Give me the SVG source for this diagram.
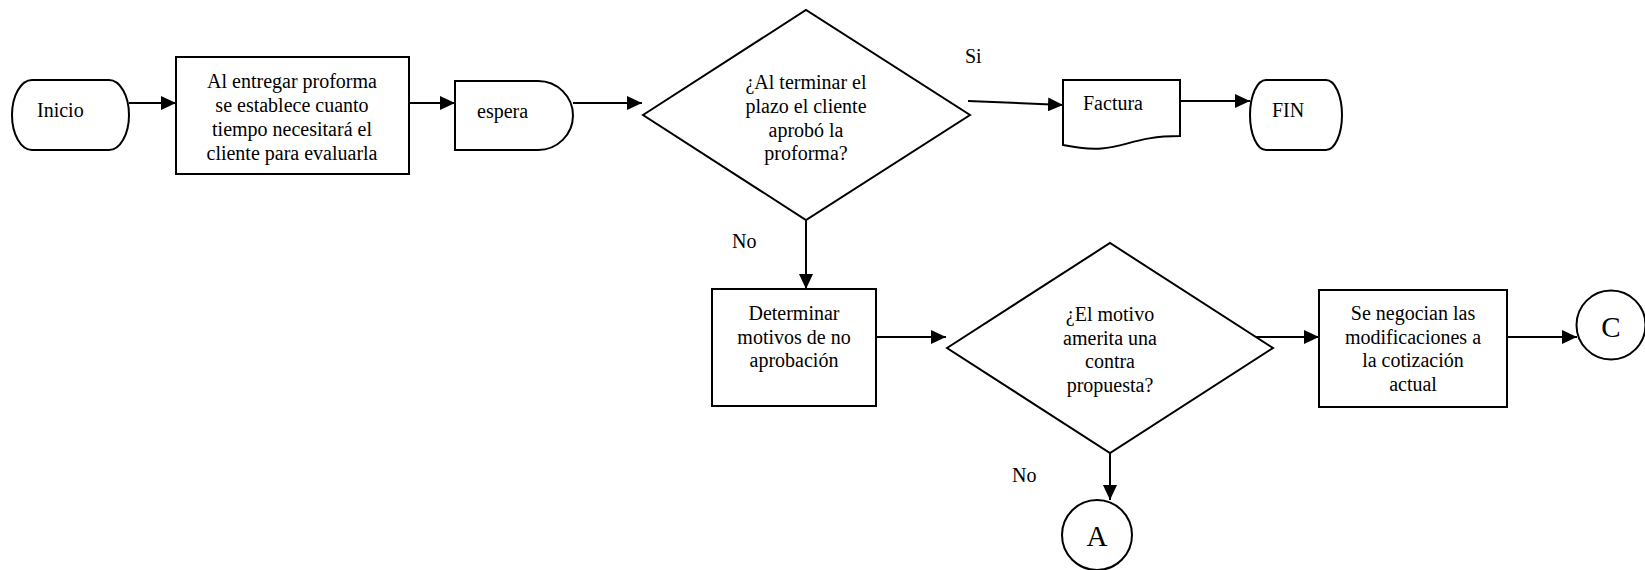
<svg xmlns="http://www.w3.org/2000/svg" width="1645" height="570" viewBox="0 0 1645 570">
  <style>
    .shape { fill: #ffffff; stroke: #000000; stroke-width: 2; }
    .conn { fill: none; stroke: #000000; stroke-width: 2; }
    .txt { font-family: "Liberation Serif", "Times New Roman", serif; font-size: 20px; fill: #000000; }
    .mid { text-anchor: middle; }
    .big { font-size: 29px; }
  </style>
  <defs>
    <marker id="arrow" markerUnits="userSpaceOnUse" markerWidth="16" markerHeight="14" refX="15" refY="7" orient="auto">
      <path d="M0,0 L15,7 L0,14 z" fill="#000000"/>
    </marker>
  </defs>

  <rect width="1645" height="570" fill="#ffffff"/>

  <!-- connectors -->
  <g id="connectors">
    <line class="conn" x1="129" y1="103" x2="176" y2="103" marker-end="url(#arrow)"/>
    <line class="conn" x1="409" y1="103" x2="455" y2="103" marker-end="url(#arrow)"/>
    <line class="conn" x1="573" y1="103" x2="642" y2="103" marker-end="url(#arrow)"/>
    <line class="conn" x1="968" y1="101" x2="1063" y2="105" marker-end="url(#arrow)"/>
    <line class="conn" x1="1180" y1="101" x2="1250" y2="101" marker-end="url(#arrow)"/>
    <line class="conn" x1="806" y1="220" x2="806" y2="289" marker-end="url(#arrow)"/>
    <line class="conn" x1="876" y1="337" x2="946" y2="337" marker-end="url(#arrow)"/>
    <line class="conn" x1="1250" y1="337" x2="1319" y2="337" marker-end="url(#arrow)"/>
    <line class="conn" x1="1507" y1="337" x2="1577" y2="337" marker-end="url(#arrow)"/>
    <line class="conn" x1="1110" y1="453" x2="1110" y2="500" marker-end="url(#arrow)"/>
    <text class="txt" x="965" y="63">Si</text>
    <text class="txt" x="732" y="248">No</text>
    <text class="txt" x="1012" y="482">No</text>
  </g>

  <!-- start terminator -->
  <g id="inicio">
    <rect class="shape" x="12" y="80" width="117" height="70" rx="20" ry="35"/>
    <text class="txt" x="37" y="117">Inicio</text>
  </g>

  <!-- set evaluation period -->
  <g id="proforma">
    <rect class="shape" x="176" y="57" width="233" height="117"/>
    <text class="txt mid" x="292" y="88">Al entregar proforma</text>
    <text class="txt mid" x="292" y="112">se establece cuanto</text>
    <text class="txt mid" x="292" y="136">tiempo necesitará el</text>
    <text class="txt mid" x="292" y="160">cliente para evaluarla</text>
  </g>

  <!-- delay -->
  <g id="espera">
    <path class="shape" d="M455,81 H538 A35,34.5 0 0 1 538,150 H455 Z"/>
    <text class="txt" x="477" y="118">espera</text>
  </g>

  <!-- approval decision -->
  <g id="decision-aprobacion">
    <polygon class="shape" points="643,115 806,10 970,115 806,220"/>
    <text class="txt mid" x="806" y="89">¿Al terminar el</text>
    <text class="txt mid" x="806" y="113">plazo el cliente</text>
    <text class="txt mid" x="806" y="137">aprobó la</text>
    <text class="txt mid" x="806" y="160">proforma?</text>
  </g>

  <!-- invoice document -->
  <g id="factura">
    <path class="shape" d="M1063,80 H1180 V136 C1121.5,136 1121.5,157 1063,145 Z"/>
    <text class="txt" x="1083" y="110">Factura</text>
  </g>

  <!-- end terminator -->
  <g id="fin">
    <rect class="shape" x="1250" y="80" width="92" height="70" rx="16" ry="35"/>
    <text class="txt" x="1272" y="117">FIN</text>
  </g>

  <!-- rejection reasons -->
  <g id="motivos">
    <rect class="shape" x="712" y="289" width="164" height="117"/>
    <text class="txt mid" x="794" y="320">Determinar</text>
    <text class="txt mid" x="794" y="344">motivos de no</text>
    <text class="txt mid" x="794" y="367">aprobación</text>
  </g>

  <!-- counter-proposal decision -->
  <g id="decision-contrapropuesta">
    <polygon class="shape" points="947,348 1110,243 1273,348 1110,453"/>
    <text class="txt mid" x="1110" y="321">¿El motivo</text>
    <text class="txt mid" x="1110" y="345">amerita una</text>
    <text class="txt mid" x="1110" y="368">contra</text>
    <text class="txt mid" x="1110" y="392">propuesta?</text>
  </g>

  <!-- negotiation -->
  <g id="negociacion">
    <rect class="shape" x="1319" y="290" width="188" height="117"/>
    <text class="txt mid" x="1413" y="320">Se negocian las</text>
    <text class="txt mid" x="1413" y="344">modificaciones a</text>
    <text class="txt mid" x="1413" y="367">la cotización</text>
    <text class="txt mid" x="1413" y="391">actual</text>
  </g>

  <!-- off-page connectors -->
  <g id="conector-c">
    <circle class="shape" cx="1611" cy="325" r="34.5"/>
    <text class="txt mid big" x="1611" y="337">C</text>
  </g>
  <g id="conector-a">
    <circle class="shape" cx="1097" cy="535" r="35"/>
    <text class="txt mid big" x="1097" y="546">A</text>
  </g>
</svg>
